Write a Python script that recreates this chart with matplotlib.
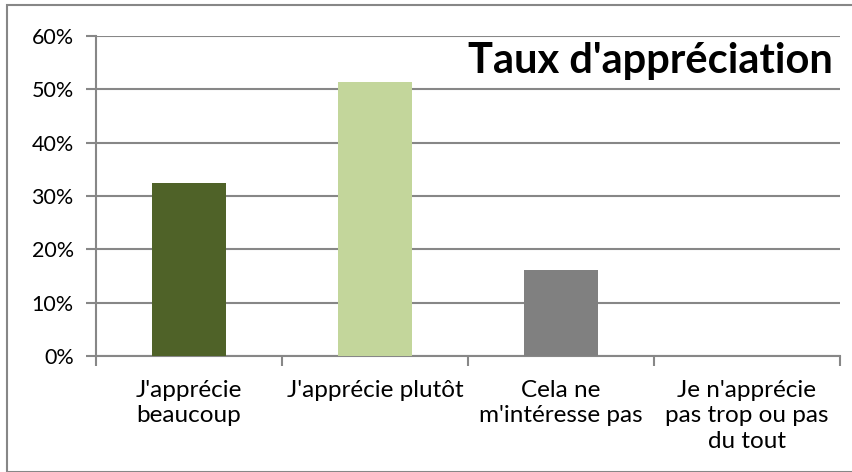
import matplotlib
matplotlib.use("Agg")
import matplotlib.pyplot as plt
from matplotlib.patches import Rectangle
from matplotlib.ticker import PercentFormatter, FixedLocator

categories = ["J'apprécie\nbeaucoup", "J'apprécie plutôt",
              "Cela ne\nm'intéresse pas", "Je n'apprécie\npas trop ou pas\ndu tout"]
valeurs = [32.4, 51.4, 16.2, 0.0]
couleurs = ["#4F6228", "#C3D69B", "#808080", "#4BACC6"]
titre = "Taux d'appréciation"

plt.rcParams['font.family'] = ['Lato', 'DejaVu Sans']

fig = plt.figure(figsize=(8.53, 4.72), dpi=100)
ax = fig.add_axes([96 / 853, 1 - 356 / 472, (840 - 96) / 853, (356 - 36) / 472])

x = list(range(len(categories)))
ax.bar(x, valeurs, width=0.4, color=couleurs, zorder=3)

ax.set_xlim(-0.5, 3.5)
ax.set_ylim(0, 60)
ax.set_yticks(range(0, 61, 10))
ax.yaxis.set_major_formatter(PercentFormatter(decimals=0))
ax.grid(axis="y", color="#878787", linewidth=1.5, zorder=0)

ax.set_xticks(x)
ax.set_xticklabels(categories, fontsize=17.5, linespacing=1.28)
ax.xaxis.set_minor_locator(FixedLocator([-0.5, 0.5, 1.5, 2.5, 3.5]))
ax.tick_params(axis="x", which="major", length=0, pad=17)
ax.tick_params(axis="x", which="minor", length=7, width=1.5, color="#878787")
ax.tick_params(axis="y", length=7, width=1.5, color="#878787", labelsize=15.5, pad=9)

for s in ["top", "right"]:
    ax.spines[s].set_visible(False)
for s in ["left", "bottom"]:
    ax.spines[s].set_color("#878787")
    ax.spines[s].set_linewidth(1.5)

ax.text(650 / 853, 1 - 61 / 472, titre, transform=fig.transFigure,
        ha="center", va="center", fontsize=30, fontweight="bold", zorder=5)

fig.patches.append(Rectangle((7 / 853, 0), 1, 1 - 5 / 472, transform=fig.transFigure,
                             fill=False, edgecolor="#878787", linewidth=1.5))

plt.savefig("out.png", dpi=100)
